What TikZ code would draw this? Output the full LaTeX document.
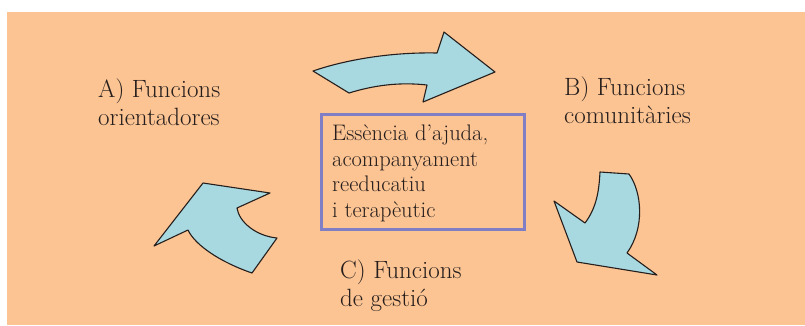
\documentclass[tikz,border=0pt]{standalone}
\usepackage{amsmath}

\definecolor{peach}{RGB}{252,196,147}
\definecolor{skyfill}{RGB}{168,216,224}
\definecolor{frameblue}{RGB}{128,126,196}
\definecolor{inkdark}{RGB}{38,30,28}

\begin{document}
\begin{tikzpicture}[x=1pt,y=-1pt,>=stealth,
    blockarrow/.style={fill=skyfill,draw=inkdark,line width=1.1pt,line join=round},
    label/.style={anchor=base west,inner sep=0pt,align=left,text=inkdark,font=\fontsize{25}{28}\selectfont},
    corebox/.style={draw=frameblue,line width=2.6pt,minimum width=203,minimum height=115,anchor=north west,inner sep=0pt},
    coretext/.style={anchor=base west,inner sep=0pt,align=left,text=inkdark,font=\fontsize{22.5}{25.5}\selectfont}]
                \useasboundingbox (0,0) rectangle (805,325);
                \fill[peach](7,12) rectangle (805,325);
                % arrows
                \draw[blockarrow](313,71) .. controls (345,60) and (390,52) .. (437,53) -- (444,32) -- (495,72) -- (423,102) -- (427,85) .. controls (400,82) and (375,85) .. (349,93) -- cycle;
                \draw[blockarrow](600,172) -- (629,174) .. controls (642,192) and (645,228) .. (627,253) -- (657,275) -- (577,262) -- (554,201) -- (585,223) .. controls (597,207) and (599,190) .. (600,172) -- cycle;
                \draw[blockarrow](203,183) -- (270,193) -- (237,208) .. controls (239,222) and (256,236) .. (277,238) -- (252,273) .. controls (220,262) and (195,245) .. (188,230) -- (154,246) -- cycle;
                % texts (base = last line)
                \node[label] (orient) at (98,125) {A) Funcions\\orientadores};
                \node[label] (comun) at (564,123) {B) Funcions\\comunitàries};
                \node[label] (gestio) at (340,306) {C) Funcions\\de gestió};
                \node[corebox] (core) at (320,113) {};
                \node[coretext] (essence) at ([shift={(12,104)}]core.north west) {Essència d’ajuda,\\acompanyament\\reeducatiu\\i terapèutic};
            \end{tikzpicture}
\end{document}
